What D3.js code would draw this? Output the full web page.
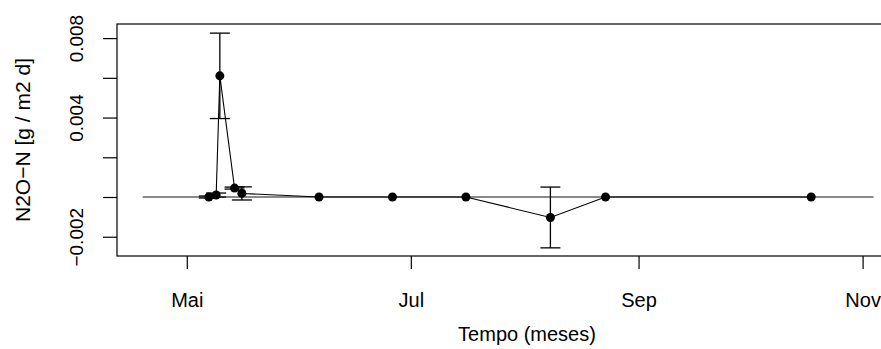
<!DOCTYPE html>
<html>
<head>
<meta charset="utf-8">
<script src="https://cdn.jsdelivr.net/npm/d3@7"></script>
<style>
  html, body { margin: 0; padding: 0; background: #fff; }
  svg { display: block; font-family: "Liberation Sans", Arial, sans-serif; }
</style>
</head>
<body>
<svg id="chart" width="881" height="349"></svg>
<script>
// Sampling dates and N2O-N flux (mean ± error)
const dates = ["2012-05-07", "2012-05-09", "2012-05-10", "2012-05-14", "2012-05-16",
               "2012-06-06", "2012-06-26", "2012-07-16", "2012-08-08", "2012-08-23", "2012-10-18"];
const flux  = [0, 0.0001, 0.0061, 0.00045, 0.00018, 0, 0, 0, -0.00103, 0, 0];
const fluxErr = [0.00005, 0.0001, 0.00215, 0.00005, 0.00033, 0, 0, 0, 0.00153, 0, 0];

// Reference line at zero
const zeroLine = ["2012-04-19", "2012-11-04"];

// Axis ticks
const xTickDates  = ["2012-05-01", "2012-07-01", "2012-09-01", "2012-11-01"];
const xTickLabels = ["Mai", "Jul", "Sep", "Nov"];
const yTickValues = [-0.002, 0, 0.002, 0.004, 0.006, 0.008];
const yTickLabels = ["\u22120.002", "", "", "0.004", "", "0.008"];

const xDomain = ["2012-04-12", "2012-11-12"];
const yDomain = [-0.00297, 0.00871];

const parse = d3.timeParse("%Y-%m-%d");
const svg = d3.select("#chart");
const FONT = "Liberation Sans, Arial, sans-serif";

const plot = { left: 117, right: 903, top: 24, bottom: 256 };

const x = d3.scaleTime().domain(xDomain.map(parse)).range([plot.left, plot.right]);
const y = d3.scaleLinear().domain(yDomain).range([plot.bottom, plot.top]);

const pts = dates.map((d, i) => ({ date: parse(d), v: flux[i], e: fluxErr[i] }));

// Plot frame
svg.append("rect")
  .attr("x", plot.left).attr("y", plot.top)
  .attr("width", plot.right - plot.left).attr("height", plot.bottom - plot.top)
  .attr("fill", "none").attr("stroke", "#000").attr("stroke-width", 1.2);

// Zero line
svg.append("line")
  .attr("x1", x(parse(zeroLine[0]))).attr("x2", x(parse(zeroLine[1])))
  .attr("y1", y(0)).attr("y2", y(0))
  .attr("stroke", "#8a8a8a").attr("stroke-width", 2.2);

// X axis
const xAxis = d3.axisBottom(x)
  .tickValues(xTickDates.map(parse))
  .tickFormat((d, i) => xTickLabels[i])
  .tickSizeOuter(0).tickSizeInner(13);
const gx = svg.append("g").attr("transform", `translate(0,${plot.bottom})`).call(xAxis);
gx.select(".domain").remove();
gx.selectAll("line").attr("stroke", "#000").attr("stroke-width", 1.2);
gx.selectAll("text")
  .attr("font-size", 20).attr("fill", "#000").attr("font-family", FONT)
  .attr("y", 51).attr("dy", 0);

// Y axis
const yAxis = d3.axisLeft(y)
  .tickValues(yTickValues)
  .tickFormat((d, i) => yTickLabels[i])
  .tickSizeOuter(0).tickSizeInner(14);
const gy = svg.append("g").attr("transform", `translate(${plot.left},0)`).call(yAxis);
gy.select(".domain").remove();
gy.selectAll("line").attr("stroke", "#000").attr("stroke-width", 1.2);
gy.selectAll("text")
  .attr("font-size", 19).attr("fill", "#000").attr("font-family", FONT)
  .attr("text-anchor", "middle")
  .attr("x", 0).attr("dy", 0)
  .attr("transform", "translate(-41,0) rotate(-90)")
  .attr("dominant-baseline", "central");

// Axis titles
svg.append("text")
  .attr("x", 527).attr("y", 341)
  .attr("text-anchor", "middle").attr("font-size", 20).attr("font-family", FONT)
  .text("Tempo (meses)");
svg.append("text")
  .attr("transform", `translate(22,${(plot.top + plot.bottom) / 2}) rotate(-90)`)
  .attr("text-anchor", "middle").attr("dominant-baseline", "central")
  .attr("font-size", 21).attr("font-family", FONT)
  .text("N2O\u2212N [g / m2 d]");

// Connecting line
const line = d3.line().x(d => x(d.date)).y(d => y(d.v));
svg.append("path").datum(pts)
  .attr("d", line).attr("fill", "none")
  .attr("stroke", "#000").attr("stroke-width", 1.1);

// Error bars
const cap = 10;
const eb = svg.append("g").attr("stroke", "#000").attr("stroke-width", 1.3);
pts.filter(d => d.e > 0).forEach(d => {
  const cx = x(d.date), y1 = y(d.v + d.e), y2 = y(d.v - d.e);
  eb.append("line").attr("x1", cx).attr("x2", cx).attr("y1", y1).attr("y2", y2);
  eb.append("line").attr("x1", cx - cap).attr("x2", cx + cap).attr("y1", y1).attr("y2", y1);
  eb.append("line").attr("x1", cx - cap).attr("x2", cx + cap).attr("y1", y2).attr("y2", y2);
});

// Points
svg.append("g").selectAll("circle").data(pts).join("circle")
  .attr("cx", d => x(d.date)).attr("cy", d => y(d.v))
  .attr("r", 4.5).attr("fill", "#000");
</script>
</body>
</html>
